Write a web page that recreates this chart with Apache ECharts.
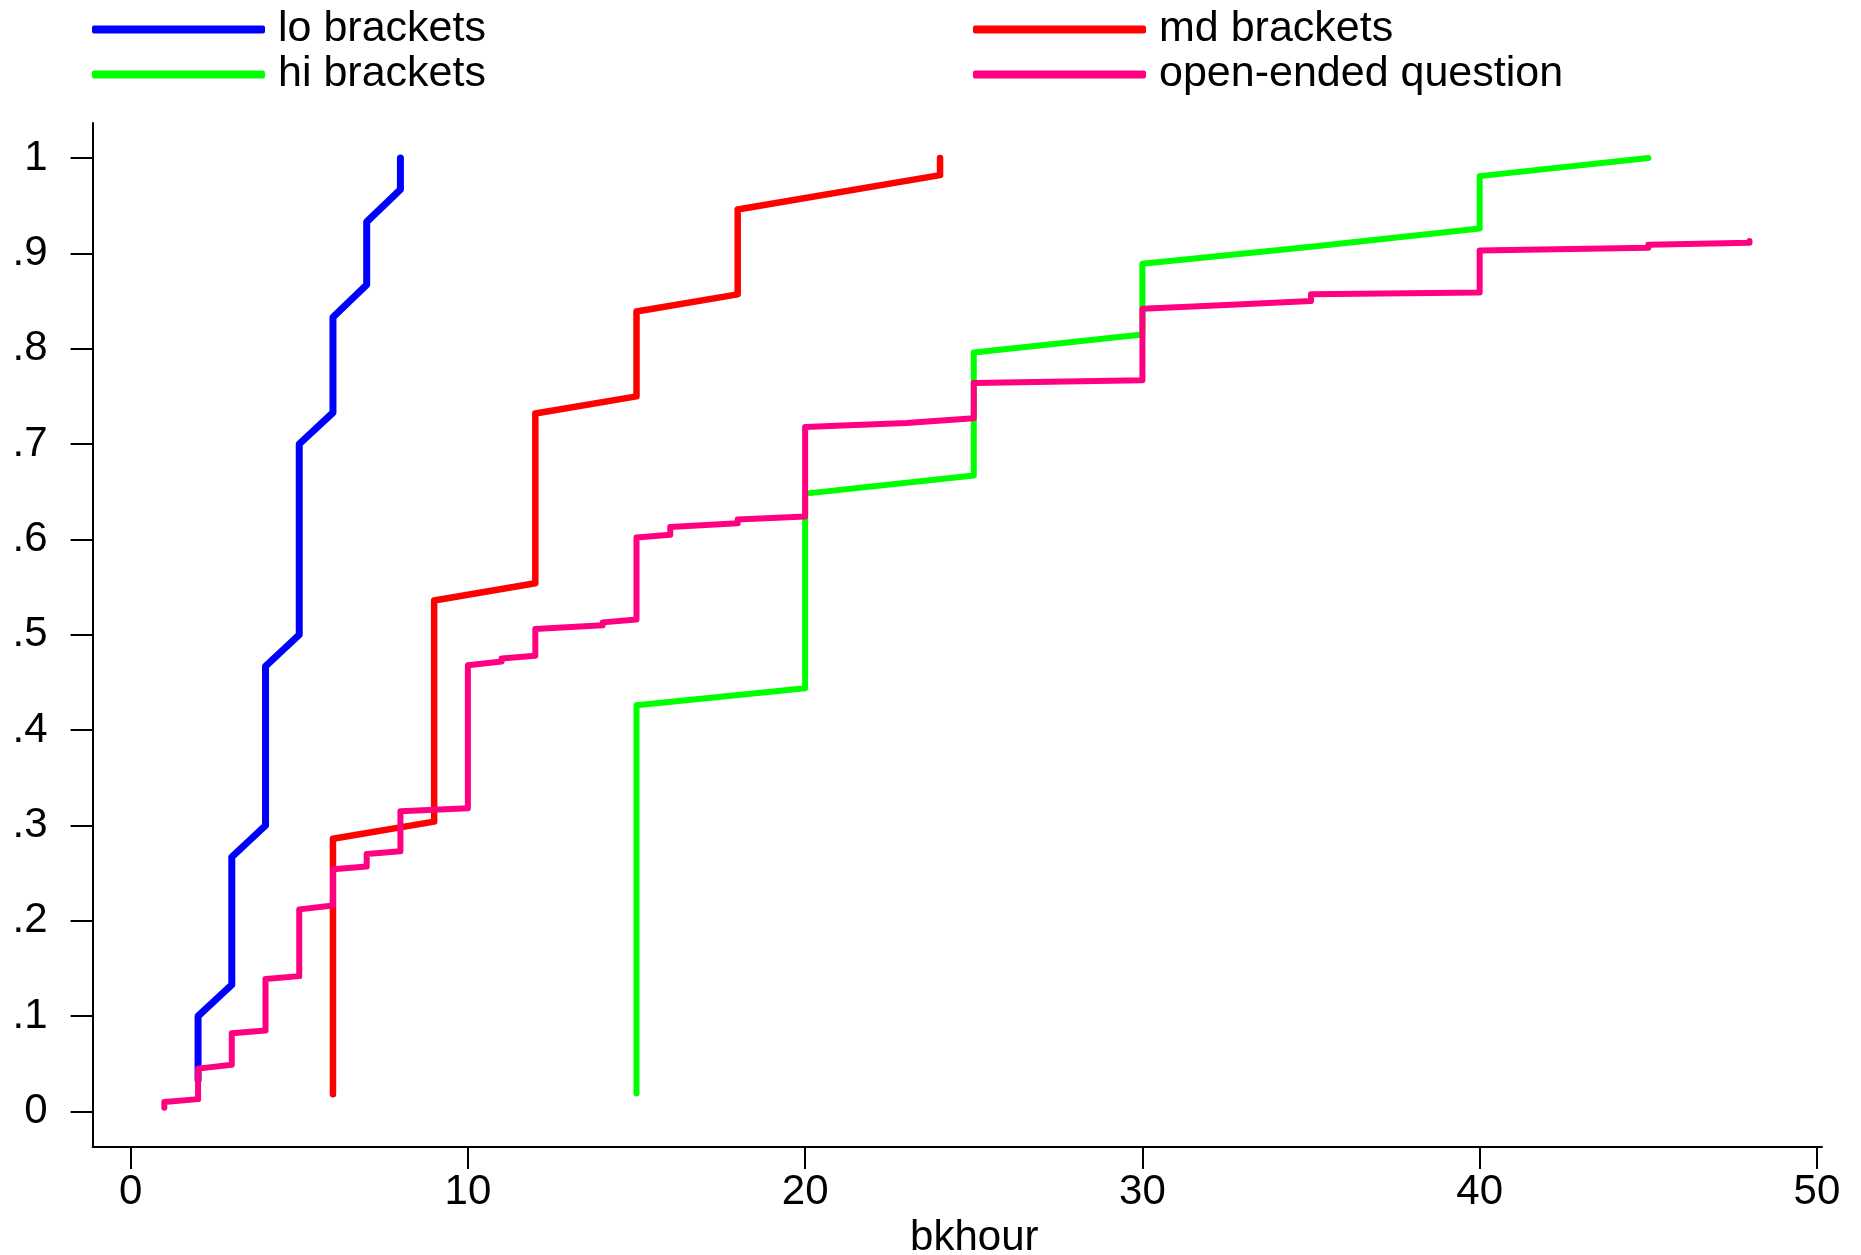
<!DOCTYPE html>
<html>
<head>
<meta charset="utf-8">
<script src="https://cdn.jsdelivr.net/npm/echarts@6/dist/echarts.min.js"></script>
<style>
  html, body { margin: 0; padding: 0; background: #fff; }
  #chart { width: 1861px; height: 1255px; }
</style>
</head>
<body>
<div id="chart"></div>
<script>
const seriesNames = ['lo brackets', 'md brackets', 'hi brackets', 'open-ended question'];
const seriesColors = ['#0000ff', '#ff0000', '#00ff00', '#ff0080'];

const loX = [2, 2, 3, 3, 4, 4, 5, 5, 6, 6, 7, 7, 8, 8];
const loY = [0.033, 0.100, 0.133, 0.267, 0.300, 0.467, 0.500, 0.700, 0.733, 0.833, 0.867, 0.933, 0.967, 1.000];

const mdX = [6, 6, 9, 9, 12, 12, 15, 15, 18, 18, 24, 24];
const mdY = [0.018, 0.286, 0.304, 0.536, 0.554, 0.732, 0.750, 0.839, 0.857, 0.946, 0.982, 1.000];

const hiX = [15, 15, 20, 20, 25, 25, 30, 30, 35, 40, 40, 45];
const hiY = [0.019, 0.426, 0.444, 0.648, 0.667, 0.796, 0.815, 0.889, 0.907, 0.926, 0.981, 1.000];

const openX = [1, 1, 2, 2, 3, 3, 4, 4, 5, 5, 6, 6, 7, 7, 8, 8, 10, 10, 11, 11, 12, 12, 14, 14,
               15, 15, 16, 16, 18, 18, 20, 20, 23, 23, 25, 25, 30, 30, 32, 32, 35, 35, 40, 40, 45, 45, 48, 48];
const openY = [0.004, 0.010, 0.013, 0.045, 0.049, 0.082, 0.085, 0.139, 0.142, 0.212, 0.216, 0.254,
               0.257, 0.270, 0.273, 0.315, 0.318, 0.468, 0.472, 0.475, 0.478, 0.506, 0.510, 0.513,
               0.516, 0.602, 0.605, 0.613, 0.617, 0.621, 0.624, 0.718, 0.722, 0.724, 0.727, 0.764,
               0.767, 0.842, 0.845, 0.847, 0.850, 0.857, 0.859, 0.903, 0.906, 0.909, 0.911, 0.913];

const xTicks = [0, 10, 20, 30, 40, 50];
const xTickLabels = ['0', '10', '20', '30', '40', '50'];
const yTicks = [0, 0.1, 0.2, 0.3, 0.4, 0.5, 0.6, 0.7, 0.8, 0.9, 1];
const yTickLabels = ['0', '.1', '.2', '.3', '.4', '.5', '.6', '.7', '.8', '.9', '1'];
const xTitle = 'bkhour';

// ---- build ----
const FONT = '"Liberation Sans", Arial, Helvetica, sans-serif';
const zip = (xs, ys) => xs.map((x, i) => [x, ys[i]]);
const allData = [zip(loX, loY), zip(mdX, mdY), zip(hiX, hiY), zip(openX, openY)];
const widths = [7, 6.5, 6, 6];

const legendPos = [
  { left: 92, top: 8 },
  { left: 973, top: 8 },
  { left: 92, top: 53 },
  { left: 973, top: 53 }
];

const chart = echarts.init(document.getElementById('chart'), null, { renderer: 'canvas' });
chart.setOption({
  animation: false,
  backgroundColor: '#ffffff',
  textStyle: { fontFamily: FONT },
  legend: seriesNames.map((n, i) => ({
    data: [n],
    left: legendPos[i].left,
    top: legendPos[i].top,
    padding: 0,
    icon: 'roundRect',
    itemWidth: 173,
    itemHeight: 8,
    selectedMode: false,
    textStyle: { fontFamily: FONT, fontSize: 43, color: '#000', lineHeight: 43, padding: [0, 0, 0, 8] }
  })),
  grid: { left: 92.6, right: 39, top: 123, bottom: 108, containLabel: false, outerBoundsMode: 'none' },
  xAxis: {
    type: 'value',
    min: -1.127,
    max: 50.15,
    name: xTitle,
    nameLocation: 'middle',
    nameGap: 62,
    nameTextStyle: { fontFamily: FONT, fontSize: 42, color: '#000', padding: [0, 0, 0, 34] },
    splitLine: { show: false },
    axisLine: { show: true, onZero: false, lineStyle: { color: '#000', width: 2 } },
    axisTick: { show: true, length: 22, lineStyle: { color: '#000', width: 2 }, customValues: xTicks },
    axisLabel: {
      show: true, margin: 24, fontFamily: FONT, fontSize: 42, color: '#000',
      customValues: xTicks,
      formatter: v => { const i = xTicks.indexOf(Math.round(v)); return i >= 0 ? xTickLabels[i] : ''; }
    }
  },
  yAxis: {
    type: 'value',
    min: -0.0372,
    max: 1.0367,
    splitLine: { show: false },
    axisLine: { show: true, onZero: false, lineStyle: { color: '#000', width: 2 } },
    axisTick: { show: true, length: 22, lineStyle: { color: '#000', width: 2 }, customValues: yTicks },
    axisLabel: {
      show: true, margin: 45, fontFamily: FONT, fontSize: 42, color: '#000',
      customValues: yTicks,
      formatter: v => { const i = Math.round(v * 10); return (i >= 0 && i <= 10) ? yTickLabels[i] : ''; }
    }
  },
  series: seriesNames.map((n, i) => ({
    name: n,
    type: 'line',
    data: allData[i],
    symbol: 'none',
    showSymbol: false,
    color: seriesColors[i],
    clip: false,
    z: 2 + i,
    lineStyle: { color: seriesColors[i], width: widths[i], cap: 'round', join: 'round' },
    emphasis: { disabled: true }
  }))
});
</script>
</body>
</html>
